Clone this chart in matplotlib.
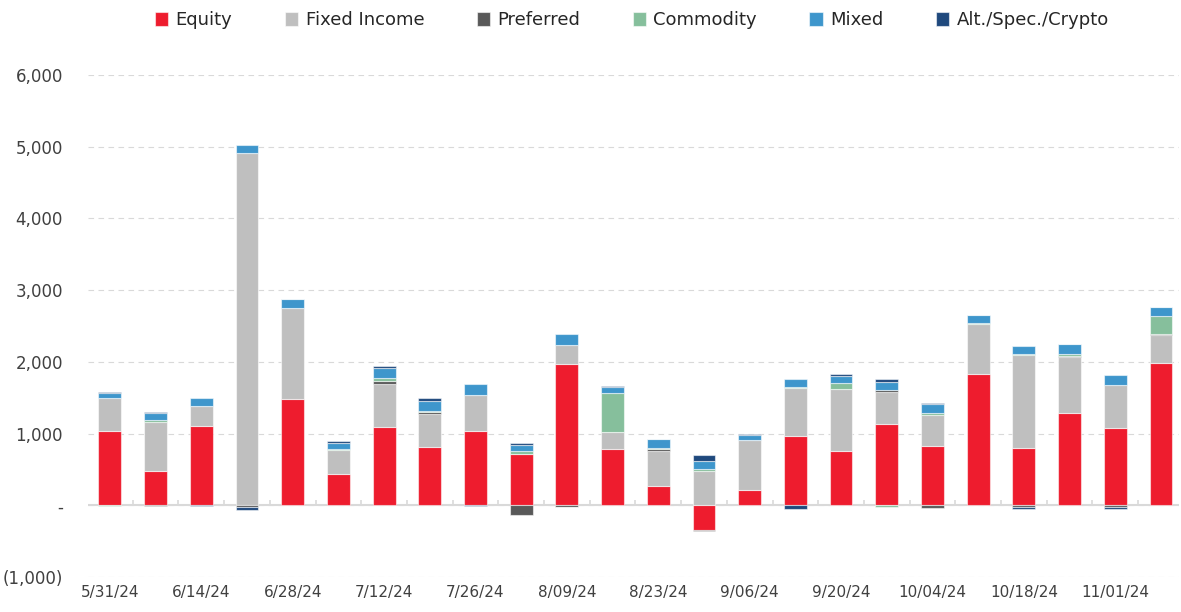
import matplotlib
matplotlib.use('Agg')
import matplotlib.pyplot as plt
from matplotlib.ticker import FuncFormatter
import numpy as np

weeks = ['5/31/24', '6/07/24', '6/14/24', '6/21/24', '6/28/24', '7/05/24',
         '7/12/24', '7/19/24', '7/26/24', '8/02/24', '8/09/24', '8/16/24',
         '8/23/24', '8/30/24', '9/06/24', '9/13/24', '9/20/24', '9/27/24',
         '10/04/24', '10/11/24', '10/18/24', '10/25/24', '11/01/24', '11/08/24']

equity    = [1040, 480, 1105, 0, 1480, 437, 1085, 815, 1035, 720, 1975, 780,
             275, -345, 210, 960, 755, 1135, 830, 1835, 800, 1290, 1075, 1980]
fixed_inc = [450, 680, 285, 4915, 1275, 330, 610, 455, 500, 0, 255, 245,
             485, 480, 705, 680, 860, 445, 430, 690, 1295, 775, 605, 400]
preferred = [0, -15, 0, -30, 0, 0, 40, 25, 0, -130, -20, 0,
             30, -15, 0, 0, 0, 30, -40, 0, -20, 20, -30, 15]
commodity = [-15, 25, 0, 0, 0, 12, 35, 15, 0, 30, 0, 535,
             15, 25, 0, 10, 85, -20, 25, 10, 10, 20, 0, 245]
mixed     = [75, 95, 110, 105, 115, 90, 140, 145, 160, 95, 155, 90,
             115, 110, 65, 110, 105, 105, 130, 125, 115, 140, 140, 120]
alt_spec  = [20, 15, -15, -35, 5, 28, 30, 45, -15, 20, -10, 15,
             10, 90, 15, -55, 20, 40, 10, 0, -35, 0, -20, 0]

series = [('Equity', equity, '#EE1C2E'),
          ('Fixed Income', fixed_inc, '#BFBFBF'),
          ('Preferred', preferred, '#595959'),
          ('Commodity', commodity, '#86BF9C'),
          ('Mixed', mixed, '#3E96CC'),
          ('Alt./Spec./Crypto', alt_spec, '#1F497D')]

plt.rcParams['font.family'] = ['DejaVu Sans']

fig = plt.figure(figsize=(11.81, 6.12), dpi=100)
ax = fig.add_axes([0.0745, 0.0572, 0.924, 0.8203])

x = np.arange(len(weeks))
pos_bottom = np.zeros(len(weeks))
neg_bottom = np.zeros(len(weeks))
for name, vals, col in series:
    v = np.array(vals, dtype=float)
    b = np.where(v >= 0, pos_bottom, neg_bottom)
    ax.bar(x, v, 0.5, bottom=b, color=col, label=name,
           edgecolor=(1, 1, 1, 0.55), linewidth=0.8, zorder=3)
    pos_bottom += np.where(v >= 0, v, 0)
    neg_bottom += np.where(v < 0, v, 0)

ax.set_xlim(-0.48, 23.4)
ax.set_ylim(-1000, 6000)
ax.set_yticks(np.arange(-1000, 6001, 1000))

def fmt(v, p):
    if v == 0:
        return '-'
    if v < 0:
        return '({:,.0f})'.format(-v)
    return '{:,.0f}'.format(v)

ax.yaxis.set_major_formatter(FuncFormatter(fmt))
ax.grid(axis='y', color='#D9D9D9', linestyle=(0, (5, 4)), linewidth=0.8, zorder=0)
ax.axhline(0, color='#D9D9D9', linewidth=1.5, zorder=2)
ax.vlines(np.arange(0.5, 23, 1), 0, 70, color='#D9D9D9', linewidth=1.2, zorder=2)

ax.set_xticks(x[::2])
ax.set_xticklabels(weeks[::2])
ax.tick_params(axis='x', length=0, labelsize=11, colors='#404040', pad=6)
ax.tick_params(axis='y', length=0, labelsize=12, colors='#404040', pad=18)
for s in ax.spines.values():
    s.set_visible(False)

fig.legend(loc='upper center', bbox_to_anchor=(0.535, 1.008), ncol=6,
           frameon=False, fontsize=13, handlelength=0.75, handleheight=0.75,
           columnspacing=2.9, handletextpad=0.4, labelcolor='#262626')

fig.savefig('out.png', dpi=100)
